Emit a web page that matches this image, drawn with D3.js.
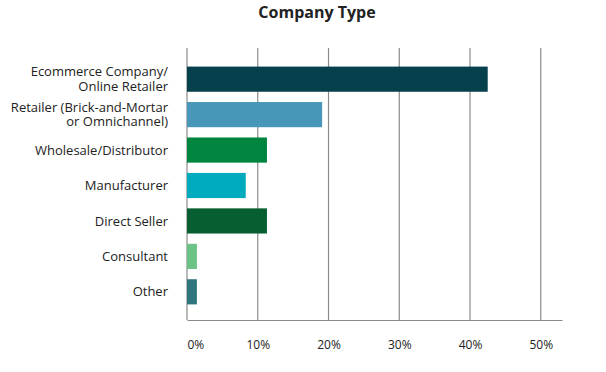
<!DOCTYPE html>
<html>
<head>
<meta charset="utf-8">
<script src="https://cdn.jsdelivr.net/npm/d3@7"></script>
<style>
	body { margin: 0; background: #fff; }
	text { font-family: 'Open Sans', sans-serif; fill: #222; }
</style>
</head>
<body>
<div id="chart"></div>
<script>
// chart data
const categories = [
	'Ecommerce Company/\nOnline Retailer',
	'Retailer (Brick-and-Mortar\nor Omnichannel)',
	'Wholesale/Distributor',
	'Manufacturer',
	'Direct Seller',
	'Consultant',
	'Other'
]
const shares = [42.5, 19.1, 11.3, 8.3, 11.3, 1.4, 1.4]
const barColours = ['#06404c', '#4896b8', '#00853f', '#00abbd', '#065e31', '#6bc388', '#30757e']
const tickValues = [0, 10, 20, 30, 40, 50]

const width = 606,
	height = 372
const margin = {top: 48, right: 44, bottom: 52, left: 187}

const svg = d3.select('#chart').append('svg').attr('width', width).attr('height', height)

// scales
const x = d3
	.scaleLinear()
	.domain([0, 53])
	.range([margin.left, width - margin.right])

// bands start a little below the top of the gridlines
const y = d3
	.scaleBand()
	.domain(categories)
	.range([margin.top + 3, height - margin.bottom])
	.paddingInner(0.29)
	.paddingOuter(0.44)

// title
svg.append('text')
	.attr('x', 317)
	.attr('y', 18)
	.attr('text-anchor', 'middle')
	.style('font-size', '16px')
	.style('font-weight', 'bold')
	.text('Company Type')

// vertical gridlines
svg.append('g')
	.selectAll('line')
	.data(tickValues)
	.enter()
	.append('line')
	.attr('x1', d => x(d))
	.attr('x2', d => x(d))
	.attr('y1', margin.top)
	.attr('y2', height - margin.bottom)
	.style('stroke', '#8a8a8a')
	.style('stroke-width', 1.2)

// bars
svg.append('g')
	.selectAll('rect')
	.data(categories)
	.enter()
	.append('rect')
	.attr('x', x(0))
	.attr('y', d => y(d))
	.attr('width', (d, i) => x(shares[i]) - x(0))
	.attr('height', y.bandwidth())
	.style('fill', (d, i) => barColours[i])

// x axis
const xAxis = svg
	.append('g')
	.attr('transform', 'translate(0,' + (height - margin.bottom) + ')')
	.call(d3.axisBottom(x).tickValues(tickValues).tickSize(0).tickPadding(20).tickFormat(d => d + '%'))
xAxis.select('.domain').style('stroke', '#8a8a8a').style('stroke-width', 1.2)
xAxis.selectAll('text').style('font-size', '12px').style('fill', '#222').style('font-family', 'Open Sans, sans-serif')
xAxis.selectAll('.tick').filter(d => d === 0).select('text').attr('text-anchor', 'start')

// category labels
const labels = svg
	.append('g')
	.selectAll('text')
	.data(categories)
	.enter()
	.append('text')
	.attr('text-anchor', 'end')
	.style('font-size', '13px')
	.attr('transform', d => 'translate(' + (margin.left - 19) + ',' + (y(d) + y.bandwidth() / 2) + ')')

labels.each(function (d) {
	const lines = d.split('\n')
	const lineHeight = 14.5
	lines.forEach((line, i) => {
		d3.select(this)
			.append('tspan')
			.attr('x', 0)
			.attr('y', (i - (lines.length - 1) / 2) * lineHeight)
			.attr('dy', '0.35em')
			.text(line)
	})
})
</script>
</body>
</html>
